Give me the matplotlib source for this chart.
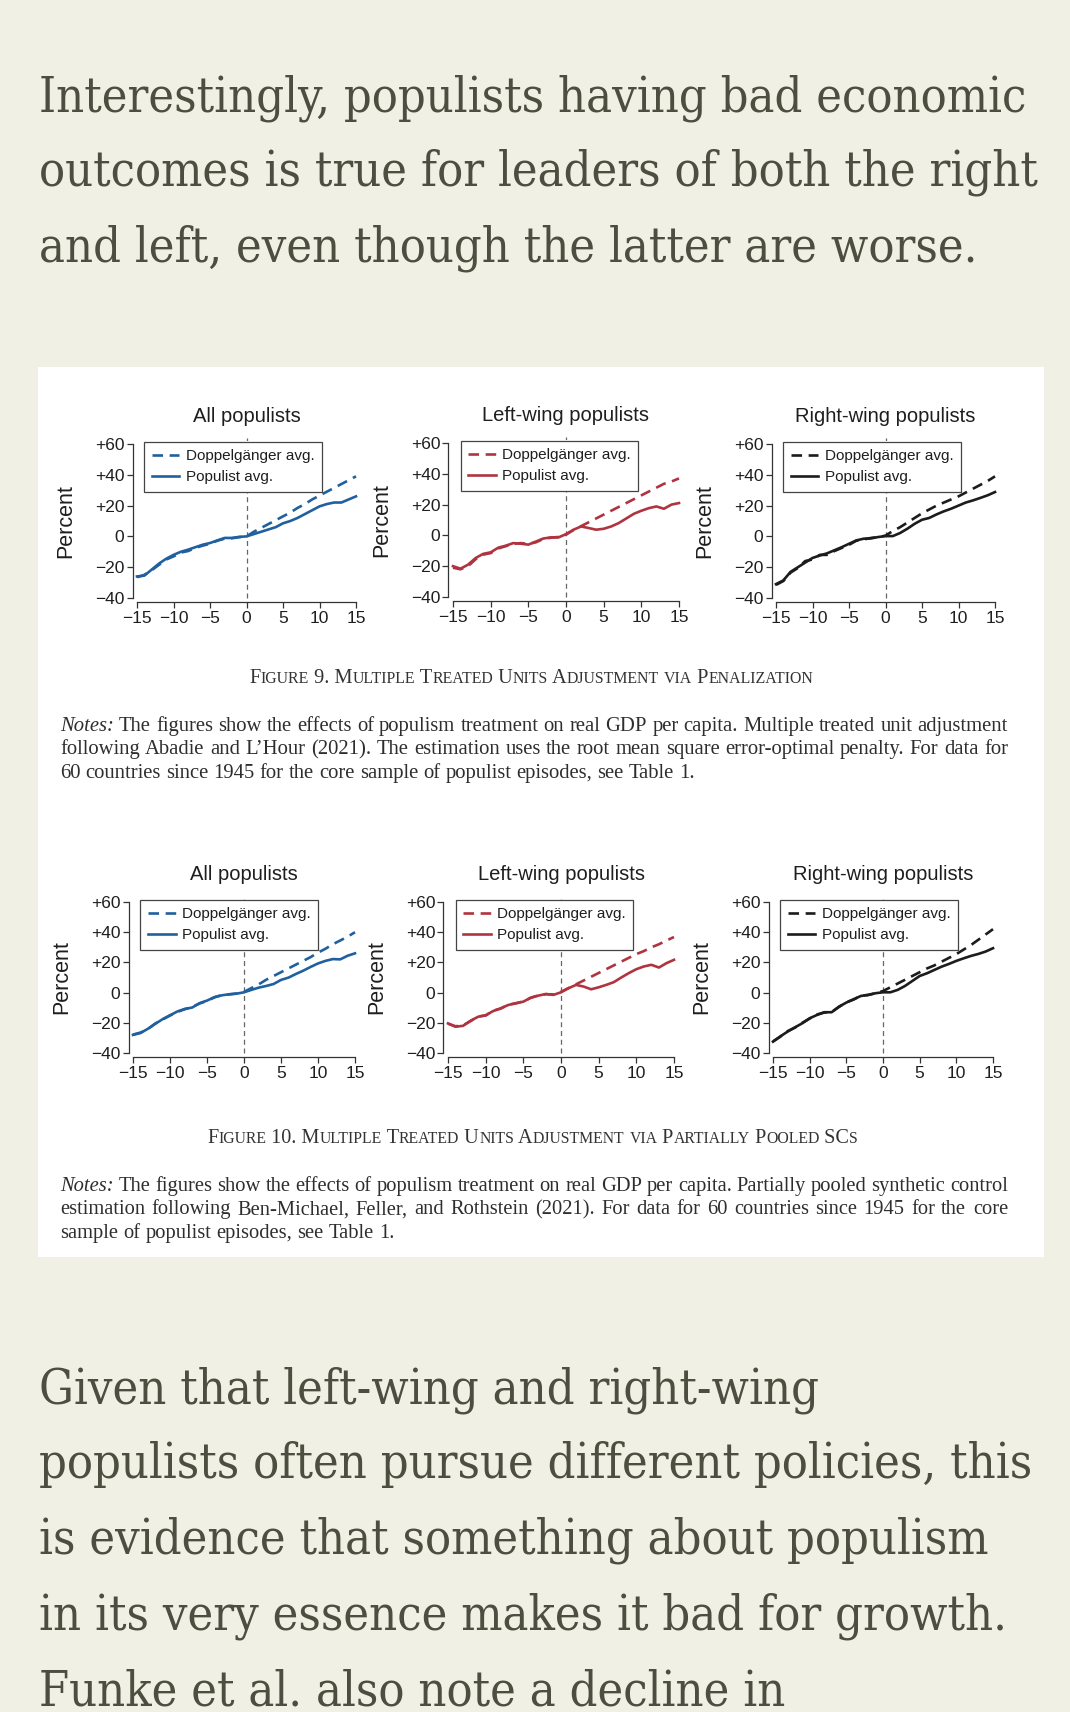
import matplotlib
matplotlib.use('Agg')
import matplotlib.pyplot as plt
from matplotlib.patches import Rectangle

W, H = 1070, 1712
BG = '#f0f0e4'
INK = '#4d4d40'

top_lines = [
    'Interestingly, populists having bad economic',
    'outcomes is true for leaders of both the right',
    'and left, even though the latter are worse.',
]
bottom_lines = [
    'Given that left-wing and right-wing',
    'populists often pursue different policies, this',
    'is evidence that something about populism',
    'in its very essence makes it bad for growth.',
    'Funke et al. also note a decline in',
]

years = list(range(-15, 16))

# figure 9 (penalization)
pop9_all = [-26, -25.5, -21.6, -17.7, -14.5, -12, -10, -8.6, -7, -5.4, -4.3, -2.6, -1, -1, -0.3,
            0, 1.5, 3, 4.5, 6, 8.5, 10, 12, 14.5, 17, 19.5, 21, 22, 22, 24, 26]
dop9_all = [-26.5, -25, -22, -18.5, -15, -13, -10.5, -9.5, -7.5, -6, -4.8, -2.8, -1.5, -1.2, -0.5,
            0, 3, 5.5, 8, 10.5, 13, 15.5, 18.5, 21, 24, 26.5, 29, 31.5, 34, 36.5, 39]
pop9_left = [-20, -21.6, -19, -14.7, -12, -11, -8, -6.7, -5, -5.4, -6, -4, -2, -1.3, -1.3,
             0.8, 3.7, 5.8, 4.8, 3.7, 4.3, 5.8, 8, 11, 14, 16, 17.7, 18.8, 17.3, 20, 21]
dop9_left = [-21, -22, -20, -15.5, -12.5, -11.5, -8.5, -7, -5.5, -5, -5.5, -4.5, -2.3, -1.5, -1,
             0.5, 3.5, 6, 8.5, 11, 13.5, 16, 18.5, 21, 23.5, 26, 28.5, 31, 33.5, 35, 37]
pop9_right = [-31, -28.6, -23, -20, -17, -14, -12.4, -11, -9, -7, -4.8, -2.6, -1.5, -1.3, -0.4,
              0.2, 0.2, 2.2, 5, 8.2, 10.8, 12, 14.3, 16.3, 18, 20, 22, 23.4, 25, 26.7, 28.8]
dop9_right = [-31.5, -29, -23.5, -20.5, -16, -15, -12, -12, -9.5, -7.5, -5.5, -2.8, -2, -1, -0.5,
              0.5, 3.5, 6, 9, 12, 15, 17.5, 20, 22, 24, 26, 28.5, 31, 33.5, 36, 39]

# figure 10 (partially pooled SCs)
pop10_all = [-28, -26.8, -24, -20.7, -17.6, -15, -12.5, -10.8, -9.9, -7, -5.3, -3, -1.8, -1.1, -0.7,
             0.2, 1.8, 3.3, 4.4, 5.7, 8.4, 9.9, 12.3, 14.5, 17, 19.3, 21, 22.2, 22, 24.4, 26]
dop10_all = [-27.8, -26.5, -24.2, -20.5, -17.8, -15.2, -12.8, -11, -9.5, -7.2, -5.5, -3.2, -1.6, -1.2, -0.6,
             0.5, 3, 5.5, 8.5, 11, 13.5, 16, 18.5, 21, 23.5, 26.5, 29, 32, 34.5, 37, 40]
pop10_left = [-20.4, -22.6, -22, -18.6, -16, -15, -12.2, -10.4, -8.2, -7, -6, -3.3, -2, -0.9, -1.5,
              0.2, 2.9, 5.1, 4, 2.2, 3.5, 5.1, 6.9, 10, 12.9, 15.5, 17.3, 18.4, 16.6, 19.5, 21.7]
dop10_left = [-20.6, -22.3, -21.7, -18.9, -15.8, -15.2, -12, -10.6, -8, -7.2, -5.8, -3.5, -1.8, -1.1, -1.2,
              0.5, 3, 5.5, 8, 10.5, 13, 15.5, 18, 20.5, 23, 25.5, 27.5, 30, 32, 34.5, 36.8]
pop10_right = [-32.5, -29, -25.8, -23, -20.3, -17, -14.8, -13, -13, -9.3, -6.6, -4.4, -2.2, -1.5, -0.4,
               0.2, 0.2, 1.8, 4.4, 7.7, 11, 12.8, 15, 17.2, 19, 21, 22.7, 24.3, 25.6, 27.2, 29.4]
dop10_right = [-32.3, -29.2, -25.5, -23.2, -20, -17.2, -14.5, -13.2, -12.8, -9.5, -6.4, -4.6, -2, -1.6, -0.3,
               1, 3.5, 6, 8.5, 11, 13.5, 16, 18, 20.5, 23, 25.5, 28.5, 31.5, 35, 38.5, 42]

titles = ['All populists', 'Left-wing populists', 'Right-wing populists']
colors = ['#21609e', '#b0343f', '#1c1c1c']
leg_labels = ['Doppelgänger avg.', 'Populist avg.']
yticks = [60, 40, 20, 0, -20, -40]
ytick_labels = ['+60', '+40', '+20', '0', '\u221220', '\u221240']
xticks = [-15, -10, -5, 0, 5, 10, 15]
xtick_labels = ['\u221215', '\u221210', '\u22125', '0', '5', '10', '15']

caption9 = 'Figure 9. Multiple Treated Units Adjustment via Penalization'
notes9 = [
    'Notes: The figures show the effects of populism treatment on real GDP per capita. Multiple treated unit adjustment',
    'following Abadie and L\u2019Hour (2021). The estimation uses the root mean square error-optimal penalty. For data for',
    '60 countries since 1945 for the core sample of populist episodes, see Table 1.',
]
caption10 = 'Figure 10. Multiple Treated Units Adjustment via Partially Pooled SCs'
notes10 = [
    'Notes: The figures show the effects of populism treatment on real GDP per capita. Partially pooled synthetic control',
    'estimation following Ben-Michael, Feller, and Rothstein (2021). For data for 60 countries since 1945 for the core',
    'sample of populist episodes, see Table 1.',
]

fig = plt.figure(figsize=(W / 100, H / 100), dpi=100)
fig.patch.set_facecolor(BG)
r = fig.canvas.get_renderer()


def fx(x):
    return x / W


def fy(y):
    return 1 - y / H


def width(s, **kw):
    t = fig.text(0, 0, '|' + s + '|', **kw)
    w = t.get_window_extent(r).width
    t.remove()
    t = fig.text(0, 0, '||', **kw)
    w -= t.get_window_extent(r).width
    t.remove()
    return w


# body text around the image
serif = dict(family='DejaVu Serif', fontstretch='condensed', color=INK)
bsize = 30 * 985 / width(top_lines[0], fontsize=30, **serif)
for i, line in enumerate(top_lines):
    fig.text(fx(39), fy(111 + 75 * i), line, fontsize=bsize, va='baseline', **serif)
for i, line in enumerate(bottom_lines):
    fig.text(fx(39), fy(1403 + 75.5 * i), line, fontsize=bsize, va='baseline', **serif)

# white image panel
fig.add_artist(Rectangle((fx(38), fy(1257)), (1044 - 38) / W, (1257 - 367) / H,
                         transform=fig.transFigure, facecolor='white', edgecolor='none', zorder=-1))

SANS = 'Liberation Sans'
TXT = '#1e1e1e'
XL = (-15.6, 15.6)
YL = (-42.8, 64)
# pixel positions of x=-15, x=15, y=+60, y=-40 for each panel
anchors = [(137, 356, 444, 598), (453, 679, 443, 597), (776, 995, 444, 598),
           (133, 355, 902, 1053), (448, 674, 902, 1053), (773, 993, 902, 1053)]
series = [(pop9_all, dop9_all), (pop9_left, dop9_left), (pop9_right, dop9_right),
          (pop10_all, dop10_all), (pop10_left, dop10_left), (pop10_right, dop10_right)]

for k, (a, (pop, dop)) in enumerate(zip(anchors, series)):
    x0, x1, y60, ym40 = a
    px = (x1 - x0) / 30
    py = (ym40 - y60) / 100
    left = x0 + (XL[0] + 15) * px
    right = x0 + (XL[1] + 15) * px
    top = y60 - (YL[1] - 60) * py
    bottom = ym40 + (-40 - YL[0]) * py
    ax = fig.add_axes([fx(left), fy(bottom), (right - left) / W, (bottom - top) / H])
    ax.set_facecolor('none')
    c = colors[k % 3]
    ax.plot([0, 0], [YL[0] + 2.8, YL[1]], color='#666666', lw=0.9, dashes=(4, 3), zorder=1)
    ax.plot(years, dop, color=c, lw=1.9, dashes=(4, 2.5), label=leg_labels[0], zorder=3)
    ax.plot(years, pop, color=c, lw=1.9, label=leg_labels[1], zorder=3)
    ax.set_xlim(*XL)
    ax.set_ylim(*YL)
    for s in ['top', 'right']:
        ax.spines[s].set_visible(False)
    for s in ['left', 'bottom']:
        ax.spines[s].set_color('#333333')
        ax.spines[s].set_linewidth(0.9)
    ax.spines['left'].set_bounds(-40, 60)
    ax.spines['bottom'].set_bounds(-15, 15)
    ax.set_yticks(yticks, ytick_labels)
    ax.set_xticks(xticks, xtick_labels)
    ax.tick_params(length=4, width=0.9, color='#333333', pad=2, labelsize=12.5, labelcolor=TXT)
    for lab in ax.get_xticklabels() + ax.get_yticklabels():
        lab.set_family(SANS)
    ax.set_ylabel('Percent', fontsize=15.5, family=SANS, color=TXT)
    ax.yaxis.set_label_coords(-56 / (right - left), (10 - YL[0]) / (YL[1] - YL[0]))
    ax.text(0, 60 + 27 / py, titles[k % 3], ha='center', va='center', fontsize=14.5,
            family=SANS, color=TXT, clip_on=False)
    leg = ax.legend(loc='upper left', bbox_to_anchor=(-14.0, 61.5), bbox_transform=ax.transData,
                    frameon=True, fancybox=False, framealpha=1, edgecolor='#444444',
                    prop={'family': SANS, 'size': 11}, handlelength=1.8, handletextpad=0.4,
                    borderpad=0.5, labelspacing=0.45, borderaxespad=0)
    leg.get_frame().set_linewidth(0.9)
    for t in leg.get_texts():
        t.set_color(TXT)

# captions in small caps
cap_kw = dict(family='Liberation Serif', color='#333333')


def smallcaps(s, xc, yb, target):
    runs = []
    for ch in s:
        sm = ch.islower()
        if runs and runs[-1][1] == sm:
            runs[-1][0] += ch.upper()
        else:
            runs.append([ch.upper(), sm])

    def total(B):
        return sum(width(t, fontsize=B * (0.78 if sm else 1), **cap_kw) for t, sm in runs)

    B = 12 * target / total(12)
    x = xc - target / 2
    for t, sm in runs:
        fs = B * (0.78 if sm else 1)
        fig.text(fx(x), fy(yb), t, fontsize=fs, va='baseline', **cap_kw)
        x += width(t, fontsize=fs, **cap_kw)


def notes(lines, y0, x0=60, x1=1008, dy=23.3):
    kw = dict(family='Liberation Serif', color='#2e2e2e')
    first = lines[0].split(' ')
    w13 = sum(width(w, fontsize=13, style='italic' if i == 0 else 'normal', **kw)
              for i, w in enumerate(first)) + (len(first) - 1) * width(' ', fontsize=13, **kw)
    fs = 13 * (x1 - x0) / w13
    sp = width(' ', fontsize=fs, **kw)
    for j, line in enumerate(lines):
        words = line.split(' ')
        styles = ['italic' if (j == 0 and i == 0) else 'normal' for i in range(len(words))]
        ws = [width(w, fontsize=fs, style=st, **kw) for w, st in zip(words, styles)]
        gap = (x1 - x0 - sum(ws)) / (len(words) - 1) if j < len(lines) - 1 else sp
        x = x0
        for w, st, ww in zip(words, styles, ws):
            fig.text(fx(x), fy(y0 + dy * j), w, fontsize=fs, style=st, va='baseline', **kw)
            x += ww + gap


smallcaps(caption9, 533, 683, 567)
notes(notes9, 731)
smallcaps(caption10, 533.5, 1143, 653)
notes(notes10, 1191)

fig.savefig('out.png', dpi=100, facecolor=BG)
